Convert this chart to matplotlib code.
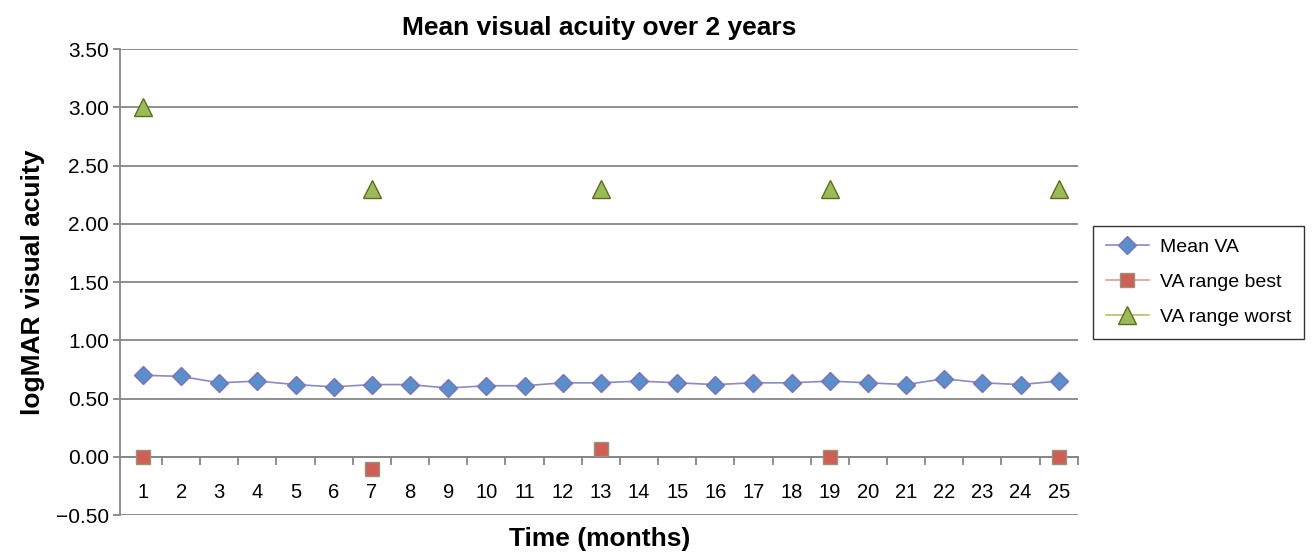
import numpy as np
import matplotlib
matplotlib.use("Agg")
import matplotlib.pyplot as plt
from matplotlib.ticker import FixedLocator
from matplotlib.lines import Line2D

plt.rcParams['font.family'] = ['Liberation Sans', 'DejaVu Sans']

months = list(range(1, 26))
mean_va = [0.70, 0.69, 0.635, 0.65, 0.62, 0.60, 0.62, 0.62, 0.59, 0.61,
           0.61, 0.635, 0.635, 0.65, 0.635, 0.62, 0.635, 0.635, 0.65, 0.635,
           0.62, 0.67, 0.635, 0.62, 0.65]
best_months = [1, 7, 13, 19, 25]
best_va = [0.00, -0.105, 0.07, 0.00, 0.00]
worst_months = [1, 7, 13, 19, 25]
worst_va = [3.00, 2.30, 2.30, 2.30, 2.30]
yticks = [-0.5, 0.0, 0.5, 1.0, 1.5, 2.0, 2.5, 3.0, 3.5]

fig = plt.figure(figsize=(13.12, 5.52), dpi=100)
ax = fig.add_axes([0.0915, 0.067, 0.7300, 0.844])

grid_c = '#868686'
mean_style = dict(color='#8c88c4', lw=1.2, marker='D', ms=9,
                  mfc='#5b8fcb', mec='#7d72b5', mew=1)
best_style = dict(marker='s', ms=10.5, mfc='#cd5f55', mec='#9c8f80', mew=1)
worst_style = dict(marker='^', ms=13, mfc='#9bbb59', mec='#5e6e1e', mew=1)

ax.plot(months, mean_va, zorder=3, **mean_style)
ax.plot(best_months, best_va, ls='none', zorder=3, **best_style)
ax.plot(worst_months, worst_va, ls='none', zorder=3, **worst_style)

ax.set_xlim(0.4, 25.5)
ax.set_ylim(-0.5, 3.5)
ax.set_yticks(yticks)
ax.set_yticklabels(['\u22120.50' if v < 0 else '%.2f' % v for v in yticks])
ax.yaxis.grid(True, color=grid_c, lw=1.3)
ax.set_axisbelow(True)

ax.set_xticks(months)
ax.xaxis.set_minor_locator(FixedLocator(np.arange(1.5, 25.6, 1.0)))
ax.tick_params(axis='x', which='major', length=0, pad=19, labelsize=14.5)
ax.tick_params(axis='x', which='minor', length=6, width=1.3, color=grid_c, direction='out')
ax.tick_params(axis='y', length=5, width=1.3, color=grid_c, labelsize=15, pad=3)

ax.spines['top'].set_visible(False)
ax.spines['right'].set_visible(False)
ax.spines['bottom'].set_position(('data', 0))
ax.spines['bottom'].set_color(grid_c)
ax.spines['bottom'].set_linewidth(1.3)
ax.spines['left'].set_color(grid_c)
ax.spines['left'].set_linewidth(1.3)

ax.set_title('Mean visual acuity over 2 years', fontsize=19, fontweight='bold', pad=10)
ax.set_ylabel('logMAR visual acuity', fontsize=19, fontweight='bold', labelpad=8)
fig.text(0.457, 0.024, 'Time (months)', ha='center', va='center',
         fontsize=19, fontweight='bold')

handles = [
    Line2D([], [], **mean_style),
    Line2D([], [], color='#e09a94', lw=1.2, **best_style),
    Line2D([], [], color='#b3c46a', lw=1.2, **worst_style),
]
labels = ['Mean VA', 'VA range best', 'VA range worst']
leg = ax.legend(handles, labels, loc='center left', bbox_to_anchor=(1.016, 0.5),
                frameon=True, fancybox=False, edgecolor='black', fontsize=14,
                handlelength=2.2, labelspacing=0.9, borderpad=0.65,
                handletextpad=0.6, borderaxespad=0)
leg.get_frame().set_linewidth(1.0)

fig.savefig('out.png', dpi=100)
